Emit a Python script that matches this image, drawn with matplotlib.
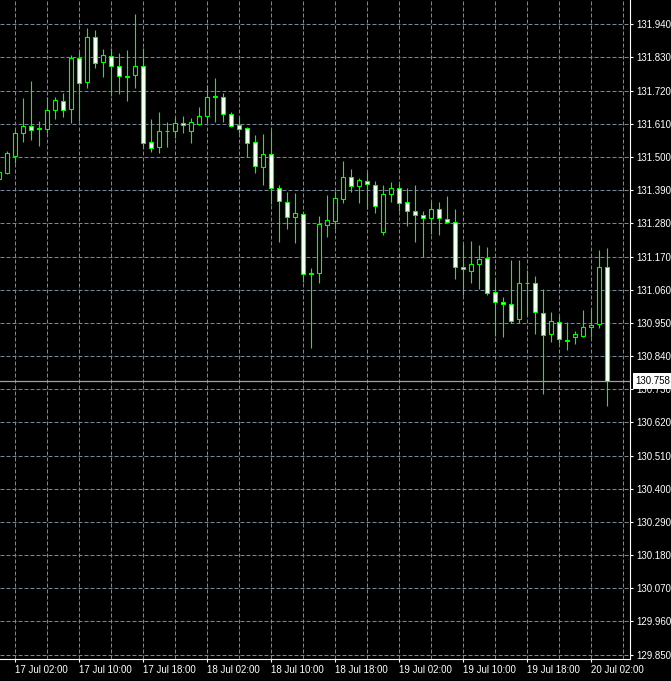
import matplotlib
matplotlib.use("Agg")
import matplotlib.pyplot as plt
from matplotlib.transforms import offset_copy

# hourly candles, 17 Jul 00:00 -> 20 Jul 04:00
opens = [131.426, 131.448, 131.504, 131.581, 131.602, 131.595, 131.594, 131.657, 131.686, 131.658,
         131.829, 131.748, 131.899, 131.814, 131.836, 131.801, 131.768, 131.771, 131.801, 131.549,
         131.532, 131.585, 131.585, 131.612, 131.585, 131.608, 131.635, 131.702, 131.698, 131.643,
         131.605, 131.595, 131.549, 131.466, 131.509, 131.396, 131.350, 131.302, 131.310, 131.114,
         131.116, 131.275, 131.289, 131.362, 131.433, 131.405, 131.419, 131.406, 131.250, 131.376,
         131.396, 131.350, 131.320, 131.307, 131.297, 131.327, 131.293, 131.285, 131.136, 131.123,
         131.144, 131.164, 131.051, 131.018, 131.011, 130.962, 131.083, 131.081, 130.982, 130.912,
         130.952, 130.892, 130.902, 130.907, 130.935, 130.945, 131.134]
highs = [131.457, 131.520, 131.590, 131.696, 131.752, 131.619, 131.698, 131.698, 131.713, 131.838,
         131.849, 131.929, 131.921, 131.858, 131.860, 131.844, 131.855, 131.974, 131.862, 131.626,
         131.649, 131.616, 131.632, 131.636, 131.628, 131.665, 131.739, 131.761, 131.713, 131.650,
         131.632, 131.600, 131.573, 131.576, 131.590, 131.407, 131.383, 131.380, 131.318, 131.132,
         131.304, 131.374, 131.387, 131.487, 131.460, 131.430, 131.449, 131.419, 131.407, 131.416,
         131.409, 131.397, 131.407, 131.320, 131.350, 131.350, 131.371, 131.328, 131.210, 131.221,
         131.208, 131.201, 131.092, 131.035, 131.158, 131.158, 131.125, 131.105, 131.061, 130.987,
         130.973, 130.953, 130.923, 130.993, 130.996, 131.192, 131.198]
lows = [131.420, 131.444, 131.481, 131.551, 131.556, 131.536, 131.579, 131.626, 131.634, 131.612,
        131.620, 131.728, 131.794, 131.766, 131.703, 131.708, 131.687, 131.730, 131.529, 131.518,
        131.514, 131.532, 131.562, 131.579, 131.545, 131.605, 131.615, 131.617, 131.615, 131.598,
        131.581, 131.499, 131.446, 131.408, 131.344, 131.219, 131.262, 131.216, 131.086, 130.867,
        131.083, 131.236, 131.261, 131.346, 131.384, 131.348, 131.327, 131.313, 131.241, 131.352,
        131.322, 131.272, 131.219, 131.169, 131.244, 131.241, 131.280, 131.096, 131.043, 131.083,
        131.061, 131.042, 130.906, 130.902, 130.950, 130.948, 130.976, 130.913, 130.714, 130.888,
        130.884, 130.860, 130.881, 130.904, 130.904, 130.934, 130.675]
closes = [131.449, 131.512, 131.579, 131.602, 131.589, 131.593, 131.656, 131.689, 131.655, 131.827,
          131.744, 131.897, 131.811, 131.837, 131.801, 131.768, 131.765, 131.801, 131.545, 131.531,
          131.585, 131.586, 131.612, 131.605, 131.616, 131.635, 131.698, 131.700, 131.642, 131.604,
          131.592, 131.545, 131.469, 131.509, 131.396, 131.353, 131.302, 131.313, 131.111, 131.112,
          131.278, 131.290, 131.363, 131.433, 131.405, 131.423, 131.409, 131.338, 131.376, 131.396,
          131.346, 131.320, 131.307, 131.297, 131.327, 131.297, 131.285, 131.134, 131.128, 131.144,
          131.161, 131.048, 131.018, 131.011, 130.957, 131.081, 131.082, 130.985, 130.909, 130.955,
          130.895, 130.890, 130.912, 130.935, 130.942, 131.134, 130.758]

price_levels = [131.940, 131.830, 131.720, 131.610, 131.500, 131.390, 131.280, 131.170, 131.060, 130.950,
                130.840, 130.730, 130.620, 130.510, 130.400, 130.290, 130.180, 130.070, 129.960, 129.850]
time_ticks = [2, 10, 18, 26, 34, 42, 50, 58, 66, 74]
time_labels = ['17 Jul 02:00', '17 Jul 10:00', '17 Jul 18:00', '18 Jul 02:00', '18 Jul 10:00',
               '18 Jul 18:00', '19 Jul 02:00', '19 Jul 10:00', '19 Jul 18:00', '20 Jul 02:00']
last_price = 130.758

lime = '#00ff00'
gridc = '#778899'
plt.rcParams['font.family'] = ['Liberation Sans', 'DejaVu Sans']

fig = plt.figure(figsize=(6.71, 6.81), dpi=100, facecolor='black')
ax = fig.add_axes([0, 22 / 681, 630 / 671, 659 / 681], facecolor='black')

# grid every 4 hours / every level
for t in range(2, 80, 4):
    ax.axvline(t, color=gridc, lw=0.72, ls=(0, (4, 2)), zorder=0)
for p in price_levels:
    ax.axhline(p, color=gridc, lw=0.72, ls=(0, (4, 2)), zorder=0)

ax.axhline(last_price, color='#a0a0a0', lw=0.9, zorder=1)

x = list(range(len(opens)))
ax.vlines(x, lows, highs, color=lime, lw=0.8, zorder=2)
for i in x:
    o, c = opens[i], closes[i]
    fill = 'black' if c > o else 'white'
    ax.bar(i, max(abs(c - o), 0.0005), bottom=min(o, c), width=0.5,
           color=fill, edgecolor=lime, linewidth=0.8, zorder=3)

ax.set_xlim(0.09, 78.84)
ax.set_ylim(129.8355, 132.0206)

ax.yaxis.tick_right()
ax.set_yticks(price_levels)
ax.set_yticklabels(['%.3f' % p for p in price_levels])
ax.set_xticks(time_ticks)
ax.set_xticklabels(time_labels, ha='left')
ax.tick_params(colors='white', labelcolor='white', labelsize=7, length=2.5, width=0.8, pad=2)

for s in ['left', 'top']:
    ax.spines[s].set_visible(False)
for s in ['right', 'bottom']:
    ax.spines[s].set_color('white')
    ax.spines[s].set_linewidth(0.8)

# current price box on the axis
tr = offset_copy(ax.get_yaxis_transform(), fig=fig, x=4.0, y=0, units='points')
ax.text(1.0, last_price, '%.3f' % last_price, transform=tr,
        ha='left', va='center', fontsize=7, color='black', zorder=10, clip_on=False,
        bbox=dict(boxstyle='square,pad=0.3', facecolor='white', edgecolor='none'))

fig.savefig('out.png', dpi=100, facecolor='black')
